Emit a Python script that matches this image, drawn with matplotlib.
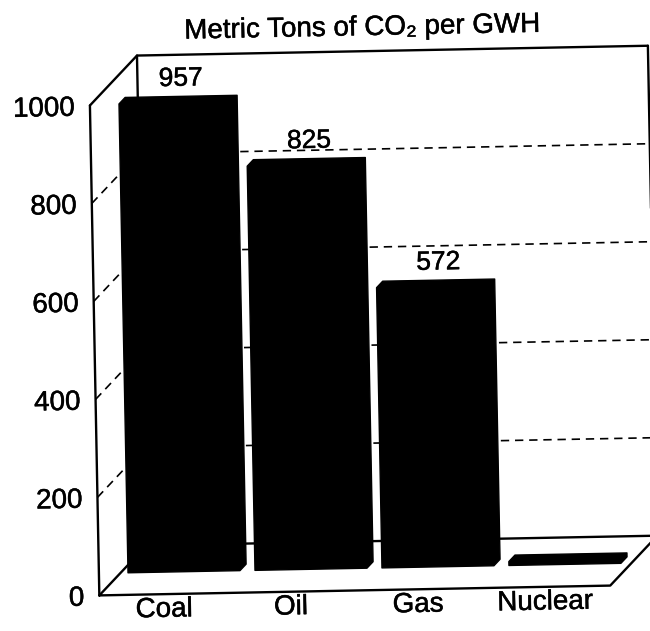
import matplotlib
matplotlib.use('Agg')
import matplotlib.pyplot as plt
import matplotlib.patheffects as pe
from matplotlib.patches import Polygon
from matplotlib.transforms import Affine2D

categories = ['Coal', 'Oil', 'Gas', 'Nuclear']
values = [957, 825, 572, 8]
value_labels = ['957', '825', '572', '']
ticks = [0, 200, 400, 600, 800, 1000]
title = 'Metric Tons of CO\u2082 per GWH'

plt.rcParams['font.family'] = ['Liberation Sans', 'DejaVu Sans']

fig = plt.figure(figsize=(6.5, 6.31), dpi=100)
ax = fig.add_axes([0, 0, 1, 1])
# x in pixels, y in metric tons (0.49 px per ton)
ax.set_xlim(0, 650)
ax.set_ylim(-81.6, 1206.1)
ax.axis('off')

# the scanned page is a bit tilted, so draw everything through a small rotation
tilt = 1.1
tr = ax.transData + Affine2D().rotate_deg_around(325, 315.5, tilt)
# scanned text looks a little heavier than plain regular
ink = [pe.withStroke(linewidth=0.35, foreground='black')]

x0 = 94      # front vertical axis
x1 = 605     # front right corner of the floor
dx = 48      # depth offset, x
dv = 100     # depth offset, y (tons)
top = ticks[-1]
dash = (0, (5, 3.5))

def line(xs, ys, **kw):
    kw.setdefault('lw', 1.7)
    ax.plot(xs, ys, color='black', transform=tr, solid_capstyle='round',
            solid_joinstyle='round', **kw)

def label(x, y, s, size, **kw):
    ax.text(x, y, s, fontsize=size, transform=tr, rotation=tilt,
            rotation_mode='anchor', path_effects=ink, **kw)

# walls and floor
line([x0, x0], [0, top])
line([x0, x0 + dx, x1 + dx], [top, top + dv, top + dv])
line([x0 + dx, x0 + dx], [dv, top + dv])
line([x1 + dx, x1 + dx], [dv, top + dv])
line([x0, x1, x1 + dx, x0 + dx, x0], [0, 0, dv, dv, 0])

# dashed grid on left and back wall
for t in ticks[1:-1]:
    line([x0, x0 + dx, x1 + dx], [t, t + dv, t + dv], ls=dash, lw=1.2)

for t in ticks:
    label(x0 - 15, t - 6, str(t), 20, ha='right', va='center')

# bars (thin boxes standing in the middle of the floor)
W = 112
step = 127
z = 0.45     # depth of front face
d = 0.13     # box depth
for i, v in enumerate(values):
    left = 101.5 + step * i + z * dx
    base = z * dv
    bx = d * dx
    bv = d * dv
    pts = [(left, base), (left + W, base), (left + W + bx, base + bv),
           (left + W + bx, base + v + bv), (left + bx, base + v + bv),
           (left, base + v)]
    ax.add_patch(Polygon(pts, closed=True, fc='black', ec='black', lw=1,
                         joinstyle='round', transform=tr, zorder=3))
    if value_labels[i]:
        label(left + W / 2 + bx, base + v + bv + 36, value_labels[i], 19,
              ha='center', va='center')
    label(101.5 + step * i + W / 2 + 1, -32, categories[i], 20,
          ha='center', va='center')

label(367.5, 1147, title, 20, ha='center', va='center')

fig.savefig('out.png', dpi=100)
